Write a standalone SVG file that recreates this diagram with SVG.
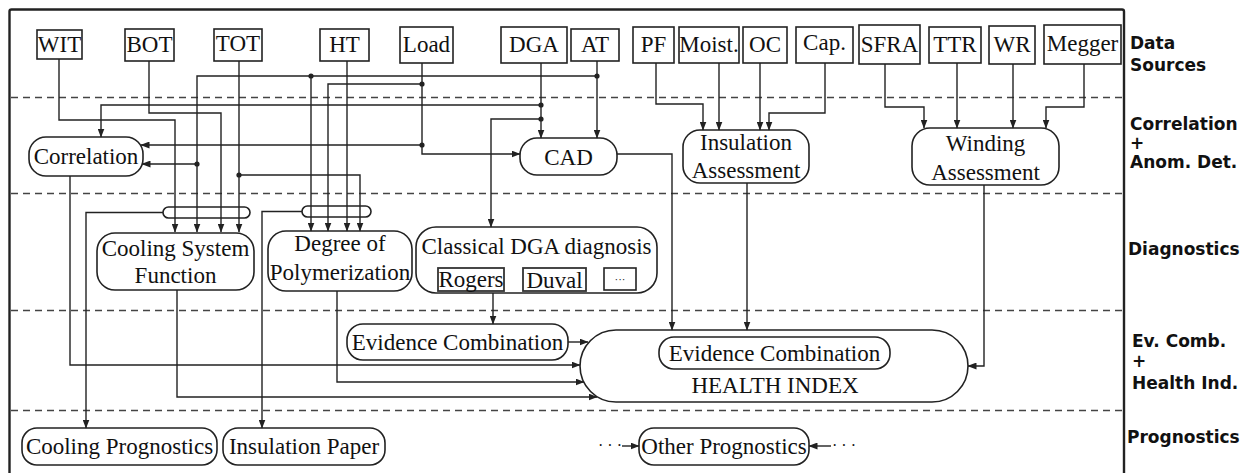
<svg xmlns="http://www.w3.org/2000/svg" width="1247" height="473" viewBox="0 0 1247 473">
<defs>
<marker id="arr" markerWidth="9" markerHeight="7" refX="8.5" refY="3.5" orient="auto" markerUnits="userSpaceOnUse"><path d="M0,0 L9,3.5 L0,7 z" fill="#222"/></marker>
<style>
.n{fill:#fff;stroke:#222;stroke-width:1.6}
.pill{fill:none;stroke:#222;stroke-width:1.6}
.sb{fill:#fff;stroke:#333;stroke-width:1.8}
.t{font-family:"Liberation Serif","Times New Roman",serif;font-size:23px;fill:#111;text-anchor:middle}
.lab{font-family:"DejaVu Sans",sans-serif;font-weight:bold;font-size:17px;fill:#111}
.c{fill:none;stroke:#222;stroke-width:1.4;marker-end:url(#arr)}
.cn{fill:none;stroke:#222;stroke-width:1.4}
.dot{fill:#222}
.dash{stroke:#444;stroke-width:1.6;stroke-dasharray:7 5}
.dots{font-family:"Liberation Serif",serif;font-size:16px;fill:#111;letter-spacing:4px}
</style>
</defs>
<rect width="1247" height="473" fill="#fff"/>
<g id="frame">
<rect x="9.5" y="9.5" width="1114.5" height="475" rx="2" fill="none" stroke="#222" stroke-width="2.4"/>
<line class="dash" x1="11" y1="97.5" x2="1123" y2="97.5"/>
<line class="dash" x1="11" y1="193.5" x2="1123" y2="193.5"/>
<line class="dash" x1="11" y1="310.5" x2="1123" y2="310.5"/>
<line class="dash" x1="11" y1="410.5" x2="1123" y2="410.5"/>
</g>
<g id="layer-labels">
<text class="lab" x="1130" y="49">Data</text>
<text class="lab" x="1130" y="71">Sources</text>
<text class="lab" x="1130" y="130">Correlation</text>
<text class="lab" x="1130" y="149">+</text>
<text class="lab" x="1130" y="168">Anom. Det.</text>
<text class="lab" x="1128" y="255">Diagnostics</text>
<text class="lab" x="1132" y="347">Ev. Comb.</text>
<text class="lab" x="1132" y="367">+</text>
<text class="lab" x="1132" y="389">Health Ind.</text>
<text class="lab" x="1127" y="443">Prognostics</text>
</g>
<g id="src-WIT"><rect class="n" x="37" y="30" width="45" height="29"/><text class="t" x="59.5" y="52">WIT</text></g>
<g id="src-BOT"><rect class="n" x="125" y="29" width="49" height="32"/><text class="t" x="149.5" y="52">BOT</text></g>
<g id="src-TOT"><rect class="n" x="214" y="29" width="48" height="32"/><text class="t" x="238" y="51">TOT</text></g>
<g id="src-HT"><rect class="n" x="320" y="29" width="49" height="32"/><text class="t" x="344.5" y="52">HT</text></g>
<g id="src-Load"><rect class="n" x="400" y="27" width="53" height="36"/><text class="t" x="426.5" y="52">Load</text></g>
<g id="src-DGA"><rect class="n" x="501" y="27" width="66" height="36"/><text class="t" x="534" y="52">DGA</text></g>
<g id="src-AT"><rect class="n" x="571" y="29" width="48" height="32"/><text class="t" x="595" y="52">AT</text></g>
<g id="src-PF"><rect class="n" x="633" y="27" width="41" height="36"/><text class="t" x="653.5" y="52">PF</text></g>
<g id="src-Moist"><rect class="n" x="679" y="27" width="60" height="36"/><text class="t" x="709" y="52">Moist.</text></g>
<g id="src-OC"><rect class="n" x="743" y="27" width="44" height="36"/><text class="t" x="765" y="52">OC</text></g>
<g id="src-Cap"><rect class="n" x="796" y="27" width="57" height="36"/><text class="t" x="824.5" y="50">Cap.</text></g>
<g id="src-SFRA"><rect class="n" x="859" y="25" width="61" height="39"/><text class="t" x="889.5" y="52">SFRA</text></g>
<g id="src-TTR"><rect class="n" x="929" y="27" width="52" height="36"/><text class="t" x="955" y="52">TTR</text></g>
<g id="src-WR"><rect class="n" x="989" y="26" width="46" height="38"/><text class="t" x="1012" y="52">WR</text></g>
<g id="src-Megger"><rect class="n" x="1044" y="25" width="77" height="39"/><text class="t" x="1082.5" y="51">Megger</text></g>

<g id="correlation"><rect class="n" x="29" y="137" width="114" height="39" rx="17"/><text class="t" x="86" y="164">Correlation</text></g>
<g id="cad"><rect class="n" x="520" y="138" width="97" height="37" rx="17"/><text class="t" x="568.5" y="165">CAD</text></g>
<g id="insulation-assessment"><rect class="n" x="683" y="130" width="126" height="53" rx="17"/><text class="t" x="746" y="150">Insulation</text><text class="t" x="746" y="178">Assessment</text></g>
<g id="winding-assessment"><rect class="n" x="912" y="128" width="147" height="57" rx="18"/><text class="t" x="985.5" y="151">Winding</text><text class="t" x="985.5" y="180">Assessment</text></g>

<g id="bus-cooling"><rect class="pill" x="163" y="207" width="87" height="11" rx="5.5"/></g>
<g id="bus-dp"><rect class="pill" x="302" y="206" width="69" height="11" rx="5.5"/></g>

<g id="cooling-system"><rect class="n" x="97" y="233" width="157" height="57" rx="18"/><text class="t" x="175.5" y="256">Cooling System</text><text class="t" x="175.5" y="283">Function</text></g>
<g id="degree-polymerization"><rect class="n" x="268" y="231" width="144" height="60" rx="18"/><text class="t" x="340" y="251">Degree of</text><text class="t" x="340" y="280">Polymerization</text></g>
<g id="classical-dga"><rect class="n" x="416" y="227" width="241" height="66" rx="20"/><text class="t" x="536.5" y="254">Classical DGA diagnosis</text>
<rect class="sb" x="438" y="268" width="66" height="23"/><text class="t" x="471" y="287">Rogers</text>
<rect class="sb" x="523" y="268" width="63" height="23"/><text class="t" x="554.5" y="288">Duval</text>
<rect class="n" x="604" y="268" width="32" height="22"/><text class="t" x="620" y="283" style="font-size:11px">···</text></g>

<g id="evidence-combination-dga"><rect class="n" x="347" y="324" width="221" height="36" rx="16"/><text class="t" x="457.5" y="350">Evidence Combination</text></g>
<g id="health-index"><rect class="n" x="580" y="330" width="388" height="72" rx="36"/>
<rect class="n" x="659" y="337" width="231" height="32" rx="15"/><text class="t" x="774.5" y="361">Evidence Combination</text>
<text class="t" x="775" y="393">HEALTH INDEX</text></g>

<g id="cooling-prognostics"><rect class="n" x="22" y="428" width="195" height="37" rx="15"/><text class="t" x="119.5" y="454">Cooling Prognostics</text></g>
<g id="insulation-paper"><rect class="n" x="223" y="428" width="162" height="37" rx="15"/><text class="t" x="304" y="454">Insulation Paper</text></g>
<g id="other-prognostics"><rect class="n" x="639" y="428" width="170" height="37" rx="15"/><text class="t" x="724" y="454">Other Prognostics</text></g>

<g id="connectors">
<path class="c" d="M59,59 V120 H175 V232"/>
<path class="c" d="M149,61 V113 H221 V232"/>
<path class="c" d="M239,61 V232"/>
<path class="c" d="M239,175 H360 V231"/>
<path class="c" d="M597,61 V138"/>
<path class="c" d="M597,76 H197 V232"/>
<path class="c" d="M311,76 V231"/>
<path class="c" d="M197,164 H142"/>
<path class="c" d="M347,61 V231"/>
<path class="c" d="M422,63 V154 H520"/>
<path class="c" d="M422,84 H328 V231"/>
<path class="c" d="M422,145 H141"/>
<path class="c" d="M541,63 V138"/>
<path class="c" d="M541,105 H101 V137"/>
<path class="c" d="M541,119 H491 V227"/>
<path class="c" d="M656,63 V104 H703 V130"/>
<path class="c" d="M719,63 V130"/>
<path class="c" d="M760,63 V130"/>
<path class="c" d="M825,63 V113 H769 V130"/>
<path class="c" d="M885,64 V107 H924 V128"/>
<path class="c" d="M957,63 V128"/>
<path class="c" d="M1013,64 V128"/>
<path class="c" d="M1084,64 V107 H1046 V128"/>
<path class="c" d="M70,176 V365 H580"/>
<path class="c" d="M337,291 V382 H584"/>
<path class="c" d="M177,290 V397 H597"/>
<path class="c" d="M568,342 H588"/>
<path class="c" d="M493,293 V324"/>
<path class="c" d="M617,154 H672 V330"/>
<path class="c" d="M747,183 V330"/>
<path class="c" d="M984,185 V366 H968"/>
<path class="c" d="M163,212.5 H86 V428"/>
<path class="c" d="M302,211.5 H262 V428"/>
<path class="c" d="M622,446 H639"/>
<path class="c" d="M831,446 H809"/>
<circle class="dot" cx="239" cy="175" r="2.6"/>
<circle class="dot" cx="597" cy="76" r="2.6"/>
<circle class="dot" cx="311" cy="76" r="2.6"/>
<circle class="dot" cx="197" cy="164" r="2.6"/>
<circle class="dot" cx="422" cy="84" r="2.6"/>
<circle class="dot" cx="422" cy="145" r="2.6"/>
<circle class="dot" cx="541" cy="105" r="2.6"/>
<circle class="dot" cx="541" cy="119" r="2.6"/>
<text class="dots" x="598" y="451">···</text>
<text class="dots" x="832" y="451">···</text>
</g>
</svg>
